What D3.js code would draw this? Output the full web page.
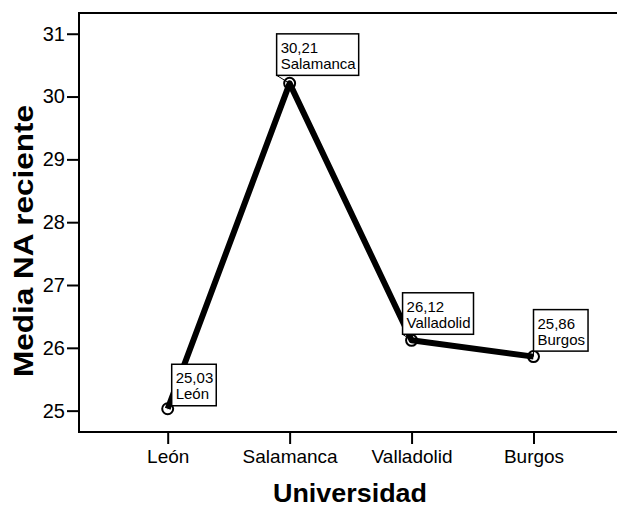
<!DOCTYPE html>
<html><head><meta charset="utf-8">
<script src="https://cdn.jsdelivr.net/npm/d3@7"></script>
<style>body{margin:0;background:#fff}svg{display:block}text{font-family:"Liberation Sans",Arial,sans-serif}</style>
</head><body>
<svg id="c" width="617" height="508"></svg>
<script>
const categories = ["León", "Salamanca", "Valladolid", "Burgos"];
const means = [25.03, 30.21, 26.12, 25.86];
const valueLabels = ["25,03", "30,21", "26,12", "25,86"];
const yTicks = [25, 26, 27, 28, 29, 30, 31];
// label box placement relative to the point (layout only)
const boxDx = [4, -13, -9, 0];
const boxDy = [-3, -8, -6, -5.5];

const svg = d3.select("#c");
const frame = {left: 79, top: 13, bottom: 432, right: 640};
const x = d3.scalePoint().domain(categories).range([167.7, 533.5]);
const y = d3.scaleLinear().domain([24.66, 31.33]).range([frame.bottom, frame.top]);

// frame
svg.append("rect").attr("x", frame.left).attr("y", frame.top)
  .attr("width", frame.right - frame.left).attr("height", frame.bottom - frame.top)
  .attr("fill", "none").attr("stroke", "#000").attr("stroke-width", 2);

// y axis
const ya = svg.append("g").attr("transform", `translate(${frame.left},0)`)
  .call(d3.axisLeft(y).tickValues(yTicks).tickSize(12).tickPadding(2).tickFormat(d3.format("d")));
ya.select(".domain").remove();
ya.selectAll(".tick line").attr("stroke-width", 2);
ya.selectAll(".tick text").attr("font-size", 20).attr("fill", "#000")
  .style("font-family", '"Liberation Sans",Arial,sans-serif');

// x axis
const xa = svg.append("g").attr("transform", `translate(0,${frame.bottom})`)
  .call(d3.axisBottom(x).tickSize(12).tickPadding(6));
xa.select(".domain").remove();
xa.selectAll(".tick line").attr("stroke-width", 2);
xa.selectAll(".tick text").attr("font-size", 19).attr("fill", "#000")
  .style("font-family", '"Liberation Sans",Arial,sans-serif');

// axis titles
svg.append("text").attr("x", 350).attr("y", 502).attr("text-anchor", "middle")
  .attr("font-size", 25).attr("font-weight", "bold")
  .attr("textLength", 154).attr("lengthAdjust", "spacingAndGlyphs").text("Universidad");
svg.append("text").attr("transform", "translate(33,241) rotate(-90)").attr("text-anchor", "middle")
  .attr("font-size", 27).attr("font-weight", "bold")
  .attr("textLength", 272).attr("lengthAdjust", "spacingAndGlyphs").text("Media NA reciente");

const data = categories.map((c, i) => ({c, v: means[i], lab: valueLabels[i], dx: boxDx[i], dy: boxDy[i]}));

// line
svg.append("path").datum(data)
  .attr("d", d3.line().x(d => x(d.c)).y(d => y(d.v)))
  .attr("fill", "none").attr("stroke", "#000").attr("stroke-width", 6).attr("stroke-linejoin", "round");

// markers
svg.selectAll("circle.m").data(data).join("circle").attr("class", "m")
  .attr("cx", d => x(d.c)).attr("cy", d => y(d.v)).attr("r", 5.5)
  .attr("fill", "none").attr("stroke", "#000").attr("stroke-width", 2);

// labels
data.forEach(d => {
  const px = x(d.c), py = y(d.v);
  const g = svg.append("g");
  const t1 = g.append("text").attr("font-size", 15).text(d.lab);
  const t2 = g.append("text").attr("font-size", 15).text(d.c);
  const w = Math.max(t1.node().getComputedTextLength(), t2.node().getComputedTextLength()) + 7;
  const h = 41.5;
  const bx = px + d.dx, by = py + d.dy - h;
  g.insert("line", "text").attr("x1", bx).attr("y1", by + h).attr("x2", px).attr("y2", py)
    .attr("stroke", "#000").attr("stroke-width", 1);
  g.insert("rect", "text").attr("x", bx).attr("y", by).attr("width", w).attr("height", h)
    .attr("fill", "#fff").attr("stroke", "#000").attr("stroke-width", 1.5);
  t1.attr("x", bx + 4).attr("y", by + 19);
  t2.attr("x", bx + 4).attr("y", by + 35);
});
</script>
</body></html>
